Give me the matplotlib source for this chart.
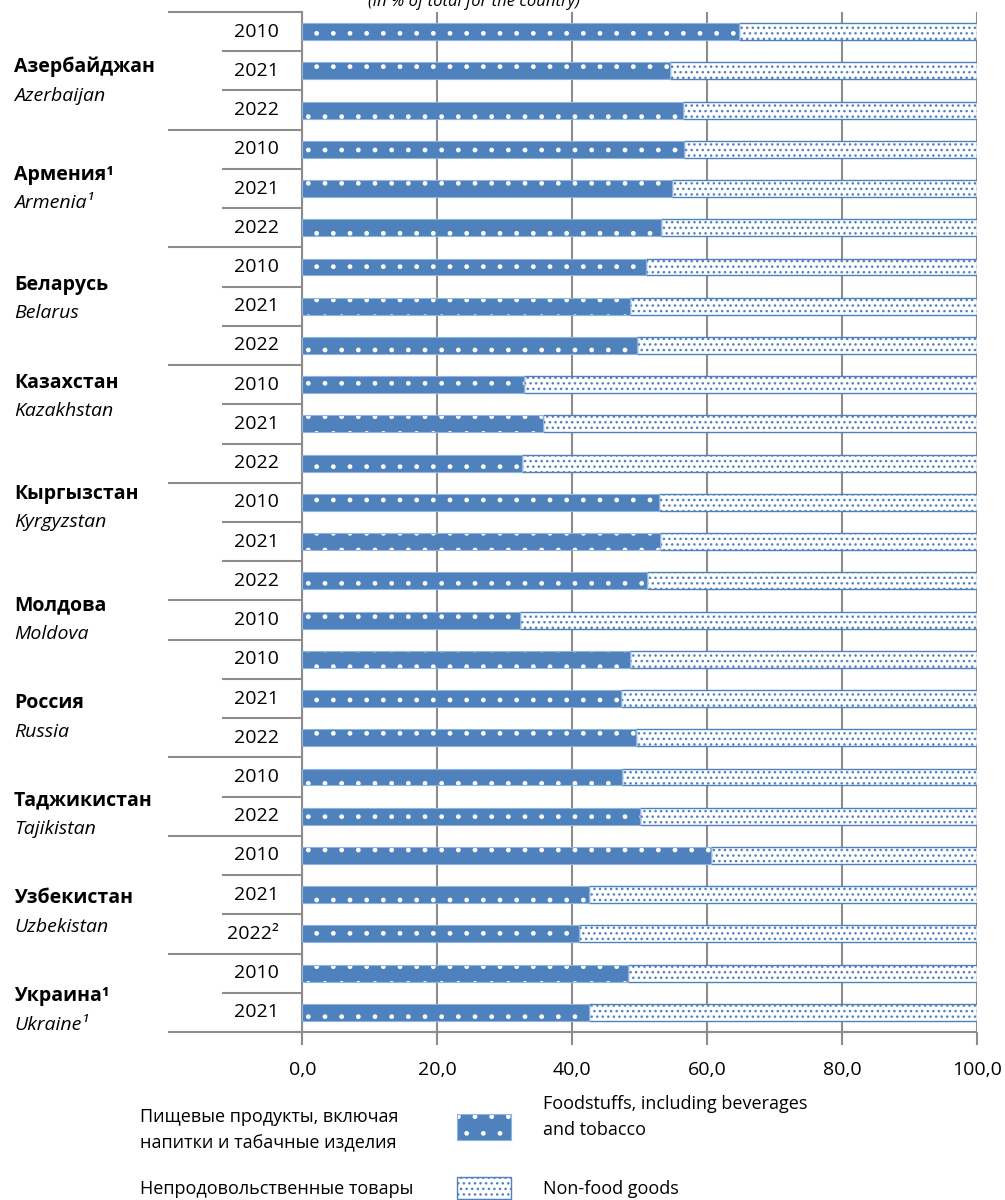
import numpy as np
import matplotlib
matplotlib.use("Agg")
import matplotlib.pyplot as plt
from matplotlib.patches import Rectangle

plt.rcParams['font.family'] = ['Open Sans', 'DejaVu Sans']
plt.rcParams['hatch.linewidth'] = 1.0

# data
countries_ru = ['Азербайджан', 'Армения¹', 'Беларусь', 'Казахстан', 'Кыргызстан',
                'Молдова', 'Россия', 'Таджикистан', 'Узбекистан', 'Украина¹']
countries_en = ['Azerbaijan', 'Armenia¹', 'Belarus', 'Kazakhstan', 'Kyrgyzstan',
                'Moldova', 'Russia', 'Tajikistan', 'Uzbekistan', 'Ukraine¹']
years = [['2010', '2021', '2022'],
         ['2010', '2021', '2022'],
         ['2010', '2021', '2022'],
         ['2010', '2021', '2022'],
         ['2010', '2021', '2022'],
         ['2010'],
         ['2010', '2021', '2022'],
         ['2010', '2022'],
         ['2010', '2021', '2022²'],
         ['2010', '2021']]
food = [64.7, 54.4, 56.4,
        56.6, 54.7, 53.2,
        50.9, 48.6, 49.6,
        32.9, 35.7, 32.5,
        52.8, 53.0, 51.0,
        32.2,
        48.6, 47.2, 49.5,
        47.4, 50.0,
        60.6, 42.5, 41.0,
        48.3, 42.5]
xticks = [0, 20, 40, 60, 80, 100]
legend_ru = ['Пищевые продукты, включая\nнапитки и табачные изделия', 'Непродовольственные товары']
legend_en = ['Foodstuffs, including beverages\nand tobacco', 'Non-food goods']
# vertical offset of the country label (in rows) inside each group
label_row = [0.9, 3.65, 6.45, 8.95, 11.78, 14.63, 17.12, 19.59, 22.09, 24.59]

W, H = 1005, 1200
blue = '#4F81BD'
grey = '#8C8C8C'

food = np.array(food)
nonfood = 100 - food
y = np.arange(len(food))

fig = plt.figure(figsize=(W / 100, H / 100), dpi=100)
ax = fig.add_axes([302.3 / W, 1 - 1032 / H, 675 / W, 1020 / H])

bh = 0.43
ax.barh(y, food, height=bh, color=blue, edgecolor='white', hatch='.', linewidth=0, zorder=2)
ax.barh(y, food, height=bh, fill=False, edgecolor='#8EB4E3', linewidth=0.8, zorder=3)
ax.barh(y, nonfood, left=food, height=bh, color='white', edgecolor=blue, hatch='...',
        linewidth=1.0, zorder=2)

ax.set_xlim(0, 100)
ax.set_ylim(len(food) - 0.5, -0.5)
ax.set_xticks(xticks)
ax.set_xticklabels([f'{v:.1f}'.replace('.', ',') for v in xticks])
ax.set_yticks([])
ax.set_axisbelow(True)
ax.grid(axis='x', color=grey, linewidth=1.5)
ax.tick_params(axis='x', direction='out', length=9, width=1.5, color=grey, pad=12,
               labelsize=14, labelcolor='black')
for s in ['top', 'right', 'bottom']:
    ax.spines[s].set_visible(False)
ax.spines['left'].set_color(grey)
ax.spines['left'].set_linewidth(1.5)

tr = ax.get_yaxis_transform()
x_long = (168 - 302.3) / 675
x_short = (222 - 302.3) / 675
x_year = (279 - 302.3) / 675
x_name = (14 - 302.3) / 675

# category separators and year labels
row = 0
for g, yrs in enumerate(years):
    ax.plot([x_long, 0], [row - 0.5, row - 0.5], transform=tr, color=grey, lw=1.5,
            clip_on=False, solid_capstyle='butt')
    for k, yr in enumerate(yrs):
        if k > 0:
            ax.plot([x_short, 0], [row - 0.5, row - 0.5], transform=tr, color=grey, lw=1.5,
                    clip_on=False, solid_capstyle='butt')
        ax.text(x_year, row, yr, transform=tr, ha='right', va='center', fontsize=14)
        row += 1
    ax.text(x_name, label_row[g], countries_ru[g], transform=tr, ha='left', va='center',
            fontsize=14, fontweight='bold')
    ax.text(x_name, label_row[g] + 0.73, countries_en[g], transform=tr, ha='left',
            va='center', fontsize=14, style='italic')
# bottom axis line
ax.plot([x_long, 1], [row - 0.5, row - 0.5], transform=tr, color=grey, lw=1.5,
        clip_on=False, solid_capstyle='butt')

# title at the top (cut by the page edge in the source)
fig.text(474 / W, 1 - 6 / H, '(in % of total for the country)', ha='center',
         va='baseline', fontsize=12, style='italic')

# legend
def px(x, yy):
    return x / W, 1 - yy / H

fig.patches.append(Rectangle(px(457, 1140), 54 / W, 26 / H, transform=fig.transFigure,
                             facecolor=blue, edgecolor='white', hatch='.', linewidth=0))
fig.patches.append(Rectangle(px(457, 1140), 54 / W, 26 / H, transform=fig.transFigure,
                             fill=False, edgecolor='#8EB4E3', linewidth=0.8))
fig.patches.append(Rectangle(px(457, 1199), 54 / W, 22 / H, transform=fig.transFigure,
                             facecolor='white', edgecolor=blue, hatch='...', linewidth=1.0))
fig.text(*px(140, 1130), legend_ru[0], ha='left', va='center', fontsize=13, linespacing=1.55)
fig.text(*px(140, 1189), legend_ru[1], ha='left', va='center', fontsize=13)
fig.text(*px(543, 1117), legend_en[0], ha='left', va='center', fontsize=13, linespacing=1.55)
fig.text(*px(543, 1189), legend_en[1], ha='left', va='center', fontsize=13)

fig.savefig('out.png', dpi=100)
